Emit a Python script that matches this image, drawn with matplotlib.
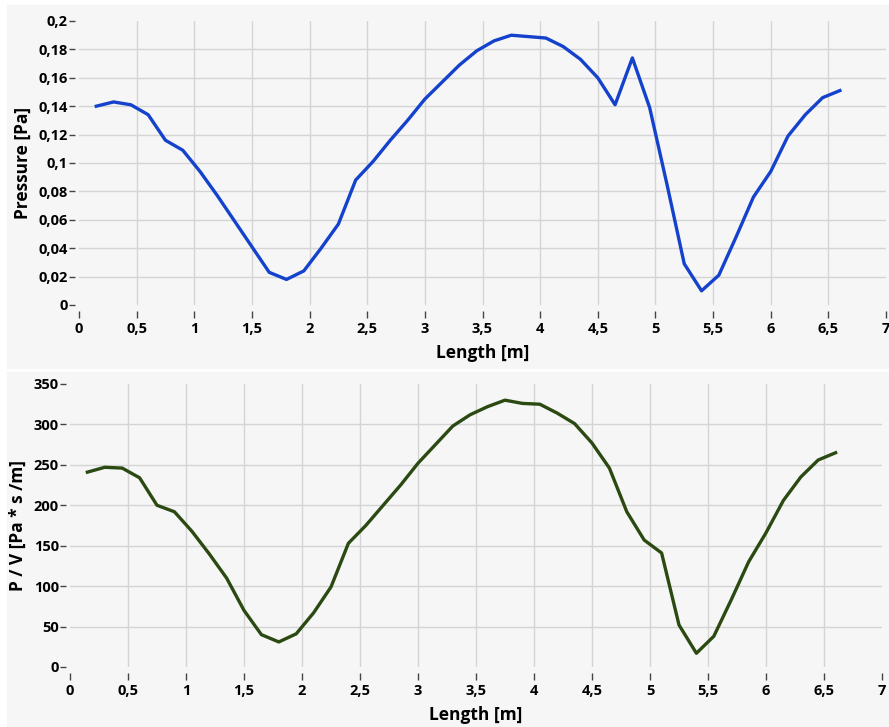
import numpy as np
import matplotlib
matplotlib.use("Agg")
import matplotlib.pyplot as plt
from matplotlib.patches import Rectangle

# sample positions along the duct [m]
length = [0.15, 0.3, 0.45, 0.6, 0.75, 0.9, 1.05, 1.2, 1.35, 1.5, 1.65, 1.8, 1.95,
          2.1, 2.25, 2.4, 2.55, 2.7, 2.85, 3.0, 3.15, 3.3, 3.45, 3.6, 3.75, 3.9,
          4.05, 4.2, 4.35, 4.5, 4.65, 4.8, 4.95, 5.1, 5.25, 5.4, 5.55, 5.7, 5.85,
          6.0, 6.15, 6.3, 6.45, 6.6]

pressure = [0.140, 0.143, 0.141, 0.134, 0.116, 0.109, 0.094, 0.077, 0.059, 0.041,
            0.023, 0.018, 0.024, 0.040, 0.057, 0.088, 0.101, 0.116, 0.130, 0.145,
            0.157, 0.169, 0.179, 0.186, 0.190, 0.189, 0.188, 0.182, 0.173, 0.160,
            0.141, 0.174, 0.139, 0.085, 0.029, 0.010, 0.021, 0.048, 0.076, 0.094,
            0.119, 0.134, 0.146, 0.151]

p_over_v = [241, 247, 246, 234, 200, 192, 168, 140, 110, 70, 40, 31, 41,
            67, 99, 153, 175, 200, 225, 252, 275, 298, 312, 322, 330, 326,
            325, 314, 301, 277, 246, 192, 157, 141, 52, 17, 38, 83, 130,
            166, 206, 235, 256, 265]

x_ticks = [0, 0.5, 1, 1.5, 2, 2.5, 3, 3.5, 4, 4.5, 5, 5.5, 6, 6.5, 7]
p_ticks = [0, 0.02, 0.04, 0.06, 0.08, 0.1, 0.12, 0.14, 0.16, 0.18, 0.2]
pv_ticks = [0, 50, 100, 150, 200, 250, 300, 350]

plt.rcParams['font.family'] = ['Open Sans', 'DejaVu Sans']
plt.rcParams['font.weight'] = 'bold'

panel_bg = '#f6f6f6'
grid_col = '#d4d4d4'

fig = plt.figure(figsize=(8.89, 7.27), dpi=100, facecolor='white')
fig.patches.append(Rectangle((7 / 889, 1 - 368 / 727), 882 / 889, 363 / 727,
                             transform=fig.transFigure, color=panel_bg, zorder=-1))
fig.patches.append(Rectangle((7 / 889, 0.0), 882 / 889, 1 - 372 / 727,
                             transform=fig.transFigure, color=panel_bg, zorder=-1))


def fmt(v):
    s = ('%g' % v).replace('.', ',')
    return s


def style(ax, yticks, ylabel):
    ax.set_facecolor(panel_bg)
    ax.set_xlim(0, 7)
    ax.set_ylim(yticks[0], yticks[-1])
    ax.set_xticks(x_ticks)
    ax.set_xticklabels([fmt(v) for v in x_ticks])
    ax.set_yticks(yticks)
    ax.set_yticklabels([fmt(v) for v in yticks])
    for s in ax.spines.values():
        s.set_visible(False)
    ax.spines['bottom'].set_position(('outward', 4))
    ax.spines['left'].set_position(('outward', 3))
    ax.tick_params(axis='x', length=5, width=1, color='#444444', pad=3,
                   labelsize=10.5)
    ax.tick_params(axis='y', length=4, width=1, color='#444444', pad=1,
                   labelsize=10.5)
    ax.grid(True, color=grid_col, linewidth=1)
    ax.set_axisbelow(True)
    # edge grid lines sit on the plot boundary, hide them
    for g in (ax.xaxis.get_gridlines()[0], ax.xaxis.get_gridlines()[-1],
              ax.yaxis.get_gridlines()[0], ax.yaxis.get_gridlines()[-1]):
        g.set_visible(False)
    ax.set_xlabel('Length [m]', fontsize=12.5, fontweight='bold', labelpad=6)
    ax.set_ylabel(ylabel, fontsize=12.5, fontweight='bold', labelpad=5)


ax1 = fig.add_axes([79 / 889, 1 - 305 / 727, 807 / 889, 284 / 727])
ax1.plot(length, pressure, color='#1442cc', linewidth=2.4, solid_joinstyle='round')
style(ax1, p_ticks, 'Pressure [Pa]')

ax2 = fig.add_axes([70 / 889, 1 - 667 / 727, 812 / 889, 283 / 727])
ax2.plot(length, p_over_v, color='#2b4a12', linewidth=2.4, solid_joinstyle='round')
style(ax2, pv_ticks, 'P / V [Pa * s /m]')

fig.savefig('out.png', dpi=100, facecolor=fig.get_facecolor())
